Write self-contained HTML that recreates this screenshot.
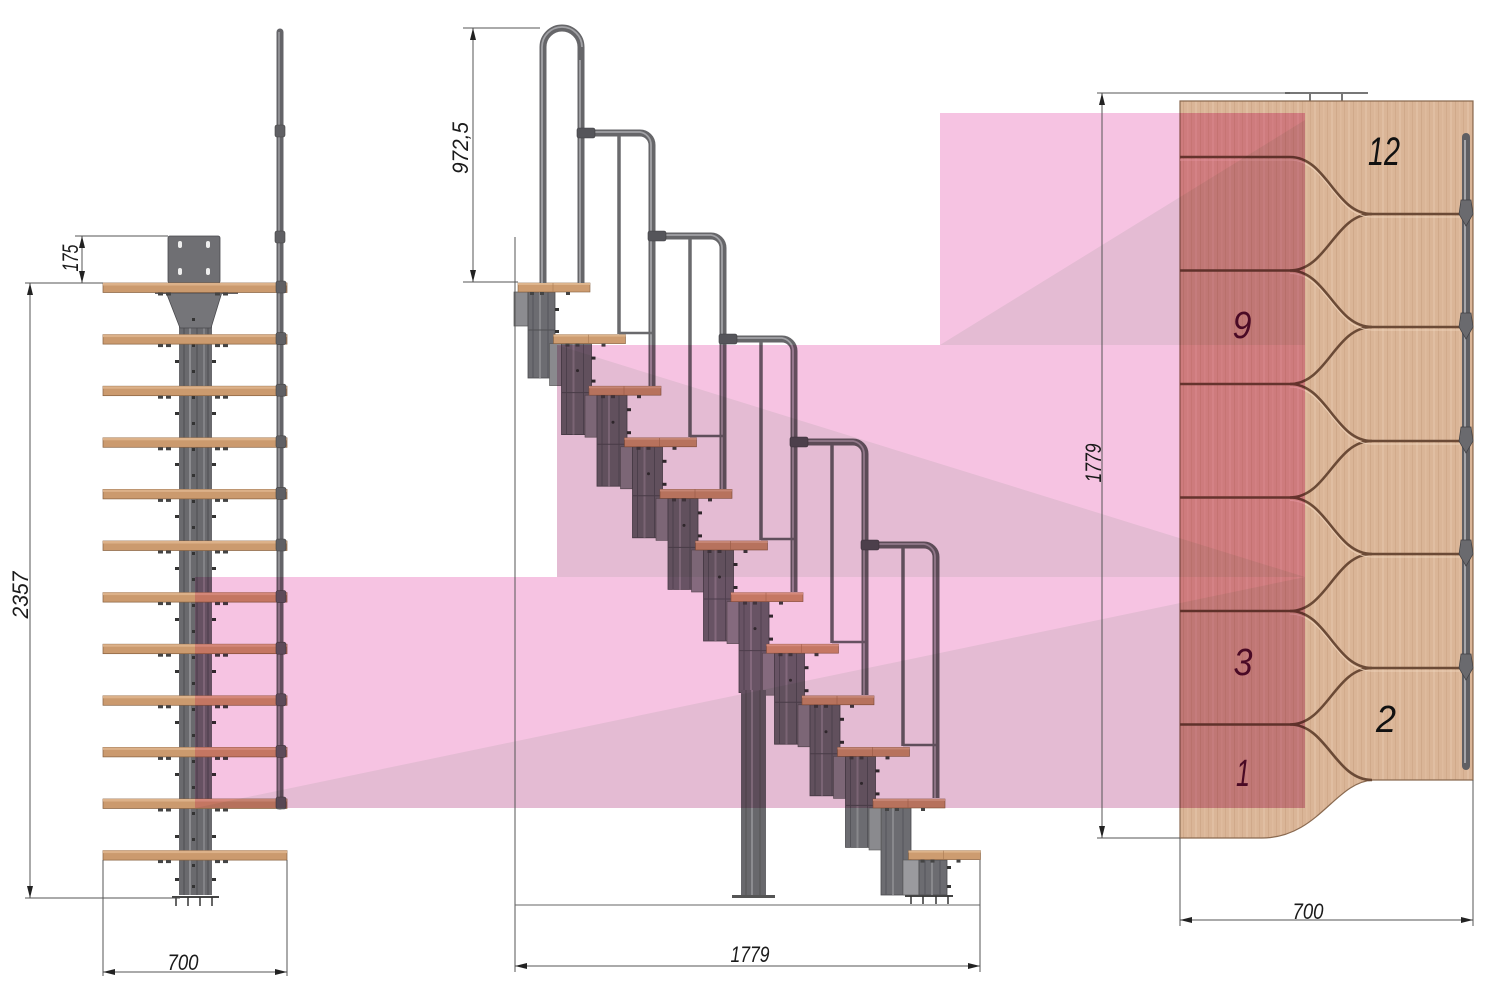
<!DOCTYPE html>
<html><head><meta charset="utf-8"><style>
html,body{margin:0;padding:0;background:#fff;}
svg{display:block;}
text{font-family:"Liberation Sans",sans-serif;font-style:italic;}
</style></head><body>
<svg width="1500" height="987" viewBox="0 0 1500 987" xmlns="http://www.w3.org/2000/svg">
<defs>
  <pattern id="grain" patternUnits="userSpaceOnUse" width="17" height="60">
    <rect width="17" height="60" fill="#dab597"/>
    <rect x="1" width="1" height="60" fill="#d2ab8c"/>
    <rect x="5" width="2" height="60" fill="#e0bea2"/>
    <rect x="10" width="1" height="60" fill="#d0a98a"/>
    <rect x="14" width="1.5" height="60" fill="#dfbb9e"/>
  </pattern>
  <g id="ltr">
    <rect width="184" height="9.5" fill="#cb9a6e" stroke="#86603f" stroke-width="0.7"/>
    <rect width="184" height="2.5" fill="#dcb189"/>
    <rect x="55" y="9.5" width="5" height="3" fill="#444"/>
    <rect x="63" y="9.5" width="5" height="3" fill="#444"/>
    <rect x="112" y="9.5" width="5" height="3" fill="#444"/>
    <rect x="120" y="9.5" width="5" height="3" fill="#444"/>
  </g>
  <g id="mod">
    <rect x="-4" y="9" width="12" height="42" fill="#8a8a8e" stroke="#555" stroke-width="0.6"/>
    <rect x="8" y="9" width="30" height="91" fill="#6c6c71" stroke="#4a4a4e" stroke-width="0.8"/>
    <line x1="13" y1="9" x2="13" y2="100" stroke="#55555a"/>
    <line x1="20" y1="9" x2="20" y2="100" stroke="#88888c" stroke-width="2"/>
    <line x1="30" y1="9" x2="30" y2="100" stroke="#55555a"/>
    <line x1="8" y1="58" x2="38" y2="58" stroke="#505054"/>
    <rect x="38" y="22" width="4" height="3" fill="#333"/>
    <rect x="38" y="45" width="4" height="3" fill="#333"/>
    <circle cx="24" cy="36" r="1.5" fill="#333"/>
  </g>
  <g id="tr">
    <rect width="72" height="9" fill="#cd9c70" stroke="#86603f" stroke-width="0.6"/>
    <rect width="72" height="2" fill="#ddb48c"/>
    <line x1="35" y1="0" x2="35" y2="9" stroke="#a87a52" stroke-width="0.6"/>
    <rect x="12" y="9" width="4" height="3" fill="#444"/>
    <rect x="22" y="9" width="4" height="3" fill="#444"/>
    <rect x="48" y="9" width="4" height="3" fill="#444"/>
  </g>
  <g id="ring"><rect x="-5" y="-2" width="10" height="12" rx="2" fill="#606064" stroke="#444" stroke-width="0.6"/></g>
  <marker id="ah" viewBox="0 0 12 6" refX="12" refY="3" markerWidth="12" markerHeight="6" orient="auto-start-reverse" markerUnits="userSpaceOnUse">
    <path d="M0 0 L12 3 L0 6 Z" fill="#222"/>
  </marker>
</defs>

<rect width="1500" height="987" fill="#fff"/>

<!-- ===== LEFT DRAWING ===== -->
<rect x="168" y="236" width="52" height="47" rx="2" fill="#6f6f73" stroke="#4a4a4e" stroke-width="0.8"/>
<rect x="178" y="241" width="4" height="7" rx="2" fill="#eee"/>
<rect x="206" y="241" width="4" height="7" rx="2" fill="#eee"/>
<rect x="178" y="268" width="4" height="7" rx="2" fill="#eee"/>
<rect x="206" y="268" width="4" height="7" rx="2" fill="#eee"/>
<rect x="179" y="291" width="33" height="604" fill="#6a6a6e"/>
<line x1="184" y1="291" x2="184" y2="895" stroke="#4e4e52"/>
<line x1="190" y1="291" x2="190" y2="895" stroke="#8c8c90" stroke-width="2"/>
<line x1="197" y1="291" x2="197" y2="895" stroke="#4e4e52"/>
<line x1="204" y1="291" x2="204" y2="895" stroke="#8a8a8e" stroke-width="1.5"/>
<line x1="208" y1="291" x2="208" y2="895" stroke="#4e4e52"/>
<polygon points="166,292 222,292 211,328 180,328" fill="#757579" stroke="#4a4a4e" stroke-width="0.8"/>
<rect x="155" y="291" width="83" height="3" fill="#606064"/>
<g fill="#333">
  <rect x="192" y="318" width="3" height="3"/><rect x="192" y="344" width="3" height="3"/><rect x="192" y="370" width="3" height="3"/><rect x="192" y="396" width="3" height="3"/><rect x="192" y="422" width="3" height="3"/><rect x="192" y="448" width="3" height="3"/><rect x="192" y="474" width="3" height="3"/><rect x="192" y="500" width="3" height="3"/><rect x="192" y="526" width="3" height="3"/><rect x="192" y="552" width="3" height="3"/><rect x="192" y="578" width="3" height="3"/><rect x="192" y="604" width="3" height="3"/><rect x="192" y="630" width="3" height="3"/><rect x="192" y="656" width="3" height="3"/><rect x="192" y="682" width="3" height="3"/><rect x="192" y="708" width="3" height="3"/><rect x="192" y="734" width="3" height="3"/><rect x="192" y="760" width="3" height="3"/><rect x="192" y="786" width="3" height="3"/><rect x="192" y="812" width="3" height="3"/><rect x="192" y="838" width="3" height="3"/><rect x="192" y="864" width="3" height="3"/><rect x="192" y="885" width="3" height="3"/>
  <rect x="175" y="360" width="4" height="3"/><rect x="212" y="360" width="4" height="3"/>
  <rect x="175" y="412" width="4" height="3"/><rect x="212" y="412" width="4" height="3"/>
  <rect x="175" y="463" width="4" height="3"/><rect x="212" y="463" width="4" height="3"/>
  <rect x="175" y="515" width="4" height="3"/><rect x="212" y="515" width="4" height="3"/>
  <rect x="175" y="567" width="4" height="3"/><rect x="212" y="567" width="4" height="3"/>
  <rect x="175" y="618" width="4" height="3"/><rect x="212" y="618" width="4" height="3"/>
  <rect x="175" y="670" width="4" height="3"/><rect x="212" y="670" width="4" height="3"/>
  <rect x="175" y="721" width="4" height="3"/><rect x="212" y="721" width="4" height="3"/>
  <rect x="175" y="773" width="4" height="3"/><rect x="212" y="773" width="4" height="3"/>
  <rect x="175" y="835" width="4" height="3"/><rect x="212" y="835" width="4" height="3"/>
  <rect x="175" y="878" width="4" height="3"/><rect x="212" y="878" width="4" height="3"/>
</g>
<rect x="172" y="896" width="47" height="2" fill="#444"/>
<g stroke="#333" stroke-width="1.5">
  <line x1="176" y1="897" x2="176" y2="906"/><line x1="188" y1="897" x2="188" y2="906"/><line x1="200" y1="897" x2="200" y2="906"/><line x1="212" y1="897" x2="212" y2="906"/>
</g>
<line x1="280" y1="32" x2="280" y2="806" stroke="#646468" stroke-width="7" stroke-linecap="round"/>
<line x1="279" y1="32" x2="279" y2="806" stroke="#9b9b9f" stroke-width="1.6"/>
<use href="#ring" x="280" y="127"/>
<use href="#ring" x="280" y="233"/>
<use href="#ltr" x="103" y="283"/>
<use href="#ltr" x="103" y="334.6"/>
<use href="#ltr" x="103" y="386.2"/>
<use href="#ltr" x="103" y="437.8"/>
<use href="#ltr" x="103" y="489.4"/>
<use href="#ltr" x="103" y="541"/>
<use href="#ltr" x="103" y="592.6"/>
<use href="#ltr" x="103" y="644.2"/>
<use href="#ltr" x="103" y="695.8"/>
<use href="#ltr" x="103" y="747.4"/>
<use href="#ltr" x="103" y="799"/>
<use href="#ltr" x="103" y="850.6"/>
<use href="#ring" x="281" y="283"/><use href="#ring" x="281" y="334.6"/><use href="#ring" x="281" y="386.2"/><use href="#ring" x="281" y="437.8"/><use href="#ring" x="281" y="489.4"/><use href="#ring" x="281" y="541"/><use href="#ring" x="281" y="592.6"/><use href="#ring" x="281" y="644.2"/><use href="#ring" x="281" y="695.8"/><use href="#ring" x="281" y="747.4"/><use href="#ring" x="281" y="799"/>

<!-- ===== MIDDLE DRAWING ===== -->
<rect x="514" y="292" width="14" height="34" fill="#8c8c90" stroke="#555" stroke-width="0.7"/>
<rect x="528" y="292" width="27" height="86" fill="#6c6c71" stroke="#4a4a4e" stroke-width="0.8"/>
<line x1="533" y1="292" x2="533" y2="378" stroke="#55555a"/>
<line x1="540" y1="292" x2="540" y2="378" stroke="#88888c" stroke-width="2"/>
<line x1="548" y1="292" x2="548" y2="378" stroke="#55555a"/>
<line x1="528" y1="330" x2="555" y2="330" stroke="#505054"/>
<rect x="555" y="308" width="4" height="3" fill="#333"/><rect x="555" y="330" width="4" height="3" fill="#333"/>
<use href="#mod" x="553.5" y="334.6"/>
<use href="#mod" x="589" y="386.2"/>
<use href="#mod" x="624.5" y="437.8"/>
<use href="#mod" x="660" y="489.4"/>
<use href="#mod" x="695.5" y="541"/>
<use href="#mod" x="731" y="592.6"/>
<use href="#mod" x="766.5" y="644.2"/>
<use href="#mod" x="802" y="695.8"/>
<use href="#mod" x="837.5" y="747.4"/>
<rect x="881" y="808" width="30" height="87" fill="#6c6c71" stroke="#4a4a4e" stroke-width="0.8"/>
<line x1="886" y1="808" x2="886" y2="895" stroke="#55555a"/><line x1="893" y1="808" x2="893" y2="895" stroke="#88888c" stroke-width="2"/><line x1="903" y1="808" x2="903" y2="895" stroke="#55555a"/>
<rect x="869" y="808" width="12" height="42" fill="#8a8a8e" stroke="#555" stroke-width="0.6"/>
<rect x="903" y="860" width="16" height="35" fill="#9a9a9e" stroke="#555" stroke-width="0.6"/>
<rect x="919" y="860" width="28" height="35" fill="#6c6c71" stroke="#4a4a4e" stroke-width="0.8"/>
<line x1="925" y1="860" x2="925" y2="895" stroke="#55555a"/><line x1="932" y1="860" x2="932" y2="895" stroke="#88888c" stroke-width="2"/><line x1="940" y1="860" x2="940" y2="895" stroke="#55555a"/>
<rect x="947" y="866" width="4" height="3" fill="#333"/><rect x="947" y="885" width="4" height="3" fill="#333"/>
<rect x="905" y="895" width="48" height="2" fill="#444"/>
<g stroke="#333" stroke-width="1.5"><line x1="911" y1="896" x2="911" y2="904"/><line x1="923" y1="896" x2="923" y2="904"/><line x1="936" y1="896" x2="936" y2="904"/><line x1="948" y1="896" x2="948" y2="904"/></g>
<rect x="741" y="690" width="25" height="206" fill="#68686c"/>
<line x1="746" y1="690" x2="746" y2="896" stroke="#555"/><line x1="752" y1="690" x2="752" y2="896" stroke="#8c8c90" stroke-width="2"/><line x1="760" y1="690" x2="760" y2="896" stroke="#555"/>
<rect x="732" y="895" width="43" height="3" fill="#555"/>
<use href="#tr" x="518" y="283"/>
<use href="#tr" x="553.5" y="334.6"/>
<use href="#tr" x="589" y="386.2"/>
<use href="#tr" x="624.5" y="437.8"/>
<use href="#tr" x="660" y="489.4"/>
<use href="#tr" x="695.5" y="541"/>
<use href="#tr" x="731" y="592.6"/>
<use href="#tr" x="766.5" y="644.2"/>
<use href="#tr" x="802" y="695.8"/>
<use href="#tr" x="837.5" y="747.4"/>
<use href="#tr" x="873" y="799"/>
<use href="#tr" x="908.5" y="850.6"/>
<g fill="none" stroke="#666669" stroke-width="7">
  <path d="M543 283 V47 A19 19 0 0 1 581 47 V283"/>
  <path d="M581 133 H640 A12 12 0 0 1 652 145 V386"/>
  <path d="M652 236 H711 A12 12 0 0 1 723 248 V489"/>
  <path d="M723 339 H782 A12 12 0 0 1 794 351 V592"/>
  <path d="M794 442 H853 A12 12 0 0 1 865 454 V695"/>
  <path d="M865 545 H924 A12 12 0 0 1 936 557 V798"/>
</g>
<g fill="none" stroke="#a2a2a6" stroke-width="1.8">
  <path d="M542 283 V47 A20 20 0 0 1 582 47"/><path d="M580 60 V283"/>
  <path d="M581 132 H640 A13 13 0 0 1 651 145 V386"/>
  <path d="M652 235 H711 A13 13 0 0 1 722 248 V489"/>
  <path d="M723 338 H782 A13 13 0 0 1 793 351 V592"/>
  <path d="M794 441 H853 A13 13 0 0 1 864 454 V695"/>
  <path d="M865 544 H924 A13 13 0 0 1 935 557 V798"/>
</g>
<g stroke="#6a6a6d" stroke-width="3.5">
  <line x1="619" y1="136" x2="619" y2="334"/>
  <line x1="690" y1="239" x2="690" y2="437"/>
  <line x1="761" y1="342" x2="761" y2="540"/>
  <line x1="832" y1="445" x2="832" y2="643"/>
  <line x1="903" y1="548" x2="903" y2="746"/>
</g>
<g stroke="#6a6a6d" stroke-width="2.5">
  <line x1="619" y1="333" x2="652" y2="333"/>
  <line x1="690" y1="436" x2="723" y2="436"/>
  <line x1="761" y1="539" x2="794" y2="539"/>
  <line x1="832" y1="642" x2="865" y2="642"/>
  <line x1="903" y1="745" x2="936" y2="745"/>
</g>
<g fill="#55555a" stroke="#3e3e42" stroke-width="0.6">
  <rect x="577" y="128" width="18" height="10" rx="2"/>
  <rect x="648" y="231" width="18" height="10" rx="2"/>
  <rect x="719" y="334" width="18" height="10" rx="2"/>
  <rect x="790" y="437" width="18" height="10" rx="2"/>
  <rect x="861" y="540" width="18" height="10" rx="2"/>
</g>

<!-- ===== RIGHT PLAN ===== -->
<line x1="1285" y1="93" x2="1368" y2="93" stroke="#777" stroke-width="2"/>
<line x1="1310" y1="93" x2="1310" y2="101" stroke="#777" stroke-width="2"/>
<line x1="1342" y1="93" x2="1342" y2="101" stroke="#777" stroke-width="2"/>
<path d="M1180 101 H1473 V780 H1373 C1335 782 1318 838 1262 838 H1180 Z" fill="url(#grain)" stroke="#8a6a50" stroke-width="1.2"/>
<g fill="none" stroke="#6b4a36" stroke-width="2.6">
  <path d="M1180 157 H1290 C1327 157 1335 214 1372 214 H1466"/>
  <path d="M1372 214 C1335 214 1327 270.5 1290 270.5 H1180"/>
  <path d="M1290 270.5 C1327 270.5 1335 327 1372 327 H1466"/>
  <path d="M1372 327 C1335 327 1327 384 1290 384 H1180"/>
  <path d="M1290 384 C1327 384 1335 441 1372 441 H1466"/>
  <path d="M1372 441 C1335 441 1327 497.5 1290 497.5 H1180"/>
  <path d="M1290 497.5 C1327 497.5 1335 554 1372 554 H1466"/>
  <path d="M1372 554 C1335 554 1327 611 1290 611 H1180"/>
  <path d="M1290 611 C1327 611 1335 668 1372 668 H1466"/>
  <path d="M1372 668 C1335 668 1327 724.5 1290 724.5 H1180"/>
  <path d="M1290 724.5 C1327 724.5 1335 780 1372 780"/>
</g>
<g fill="none" stroke="#f0d6be" stroke-width="1" opacity="0.8">
  <path d="M1180 160 H1290 C1327 160 1335 217 1372 217 H1460"/>
  <path d="M1290 273.5 C1327 273.5 1335 330 1372 330 H1460"/>
  <path d="M1290 387 C1327 387 1335 444 1372 444 H1460"/>
  <path d="M1290 500.5 C1327 500.5 1335 557 1372 557 H1460"/>
  <path d="M1290 614 C1327 614 1335 671 1372 671 H1460"/>
</g>
<line x1="1466" y1="137" x2="1466" y2="766" stroke="#5f5f63" stroke-width="8" stroke-linecap="round"/>
<line x1="1465" y1="140" x2="1465" y2="763" stroke="#a5a5a9" stroke-width="2"/>
<g fill="#6a6a6e" stroke="#3f3f43" stroke-width="0.7">
  <polygon points="1461,200 1471,200 1473,214 1466,226 1459,214"/>
  <polygon points="1461,313 1471,313 1473,327 1466,339 1459,327"/>
  <polygon points="1461,427 1471,427 1473,441 1466,453 1459,441"/>
  <polygon points="1461,540 1471,540 1473,554 1466,566 1459,554"/>
  <polygon points="1461,654 1471,654 1473,668 1466,680 1459,668"/>
</g>

<!-- ===== PINK OVERLAYS ===== -->
<path d="M195 577 H557 V345 H940 V113 H1305 V808 H195 Z" fill="#f6c3e2" style="mix-blend-mode:multiply"/>
<g fill="#edf5ee" style="mix-blend-mode:multiply">
  <polygon points="940,345 1305,120 1305,345"/>
  <polygon points="557,345 1305,577 557,577"/>
  <polygon points="195,808 1305,577 1305,808"/>
</g>
<rect x="1180" y="113" width="125" height="695" fill="#fbe4ee" style="mix-blend-mode:multiply"/>

<!-- plan numbers -->
<text x="1384" y="165" font-size="40" fill="#111" text-anchor="middle" textLength="32" lengthAdjust="spacingAndGlyphs">12</text>
<text x="1242" y="338" font-size="38" fill="#4a0a25" text-anchor="middle" textLength="19" lengthAdjust="spacingAndGlyphs">9</text>
<text x="1243" y="675" font-size="38" fill="#4a0a25" text-anchor="middle" textLength="19" lengthAdjust="spacingAndGlyphs">3</text>
<text x="1386" y="732" font-size="38" fill="#111" text-anchor="middle" textLength="20" lengthAdjust="spacingAndGlyphs">2</text>
<text x="1243" y="786" font-size="38" fill="#4a0a25" text-anchor="middle" textLength="14" lengthAdjust="spacingAndGlyphs">1</text>

<!-- ===== DIMENSIONS ===== -->
<g stroke="#555" stroke-width="1" fill="none">
  <line x1="75" y1="236" x2="168" y2="236"/>
  <line x1="25" y1="283" x2="103" y2="283"/>
  <line x1="82" y1="236" x2="82" y2="283" marker-start="url(#ah)" marker-end="url(#ah)"/>
  <line x1="30" y1="283" x2="30" y2="898" marker-start="url(#ah)" marker-end="url(#ah)"/>
  <line x1="25" y1="898" x2="180" y2="898"/>
  <line x1="103" y1="860" x2="103" y2="976"/>
  <line x1="287" y1="860" x2="287" y2="976"/>
  <line x1="103" y1="972" x2="287" y2="972" marker-start="url(#ah)" marker-end="url(#ah)"/>
  <line x1="463" y1="28" x2="540" y2="28"/>
  <line x1="463" y1="282" x2="518" y2="282"/>
  <line x1="473" y1="28" x2="473" y2="282" marker-start="url(#ah)" marker-end="url(#ah)"/>
  <line x1="515" y1="237" x2="515" y2="972"/>
  <line x1="980" y1="860" x2="980" y2="972"/>
  <line x1="515" y1="966" x2="980" y2="966" marker-start="url(#ah)" marker-end="url(#ah)"/>
  <line x1="515" y1="905" x2="980" y2="905" stroke="#666"/>
  <line x1="1097" y1="93" x2="1290" y2="93"/>
  <line x1="1097" y1="838" x2="1180" y2="838"/>
  <line x1="1102" y1="93" x2="1102" y2="838" marker-start="url(#ah)" marker-end="url(#ah)"/>
  <line x1="1180" y1="838" x2="1180" y2="926"/>
  <line x1="1473" y1="780" x2="1473" y2="926"/>
  <line x1="1180" y1="920" x2="1473" y2="920" marker-start="url(#ah)" marker-end="url(#ah)"/>
</g>
<g fill="#1a1a1a" font-size="22">
  <text transform="translate(70,258) rotate(-90)" y="8" text-anchor="middle" textLength="27" lengthAdjust="spacingAndGlyphs">175</text>
  <text transform="translate(20,595) rotate(-90)" y="8" text-anchor="middle" textLength="47" lengthAdjust="spacingAndGlyphs">2357</text>
  <text x="183" y="970" text-anchor="middle" textLength="31" lengthAdjust="spacingAndGlyphs">700</text>
  <text transform="translate(460,148) rotate(-90)" y="8" text-anchor="middle" textLength="52" lengthAdjust="spacingAndGlyphs">972,5</text>
  <text x="750" y="962" text-anchor="middle" textLength="39" lengthAdjust="spacingAndGlyphs">1779</text>
  <text transform="translate(1093,463) rotate(-90)" y="8" text-anchor="middle" textLength="39" lengthAdjust="spacingAndGlyphs">1779</text>
  <text x="1308" y="919" text-anchor="middle" textLength="31" lengthAdjust="spacingAndGlyphs">700</text>
</g>
</svg>
</body></html>
